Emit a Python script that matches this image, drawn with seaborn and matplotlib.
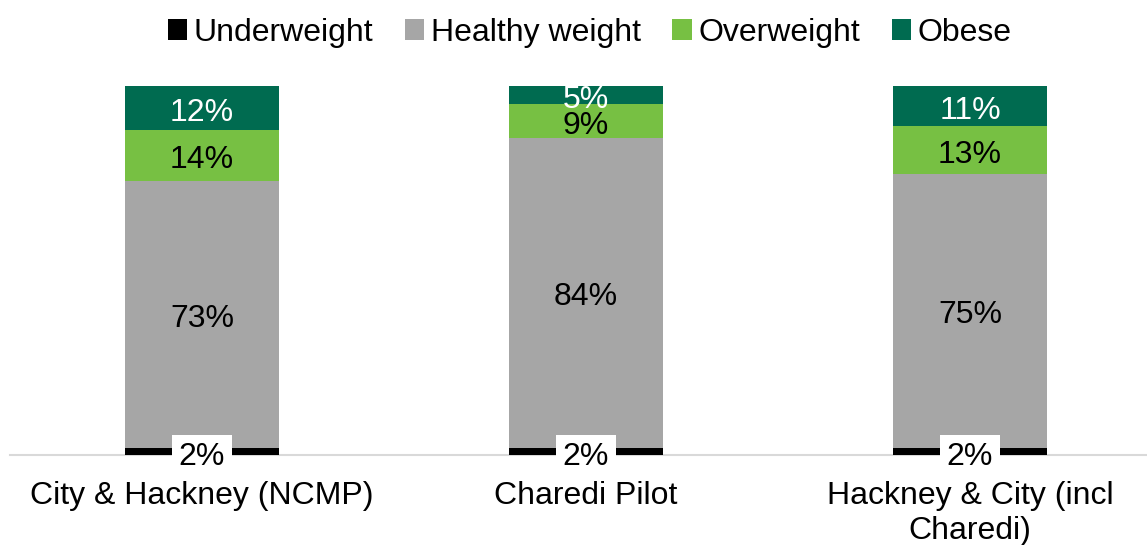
import numpy as np
import pandas as pd
import matplotlib
matplotlib.use("Agg")
import matplotlib.pyplot as plt
import seaborn as sns
from matplotlib.patches import Patch

sns.set_theme(style="white")
plt.rcParams['font.family'] = ['Liberation Sans', 'DejaVu Sans']
plt.rcParams['text.color'] = 'black'
plt.rcParams['xtick.color'] = 'black'

# data
groups = ["City & Hackney (NCMP)", "Charedi Pilot", "Hackney & City (incl\nCharedi)"]
underweight = [2, 2, 2]
healthy = [73, 84, 75]
overweight = [14, 9, 13]
obese = [12, 5, 11]

layers = ["Underweight", "Healthy weight", "Overweight", "Obese"]
colors = ["#000000", "#A6A6A6", "#77C043", "#006B50"]
text_colors = ["black", "black", "black", "white"]

df = pd.DataFrame({
    "group": groups,
    "Underweight": underweight,
    "Healthy weight": healthy,
    "Overweight": overweight,
    "Obese": obese,
})
totals = df[layers].sum(axis=1)
shares = df[layers].div(totals, axis=0)
cum = shares.cumsum(axis=1)

fig = plt.figure(figsize=(11.47, 5.45), dpi=100)
ax = fig.add_axes([10 / 1147, 90 / 545, 1152 / 1147, 369 / 545])

# draw cumulative heights from top layer down so each sits on the one below
for layer, col in zip(layers[::-1], colors[::-1]):
    sns.barplot(x=df["group"], y=cum[layer], color=col, width=0.4,
                saturation=1, ax=ax, linewidth=0, order=groups)

fs = 23
for i in range(len(groups)):
    for j, layer in enumerate(layers):
        val = df[layer].iloc[i]
        top = cum[layer].iloc[i]
        bot = top - shares[layer].iloc[i]
        if layer == "Underweight":
            ax.text(i, -0.005, f"{val}%", ha="center", va="center", fontsize=fs,
                    color="black",
                    bbox=dict(boxstyle="square,pad=0.2", fc="white", ec="none"))
        else:
            ax.text(i, (top + bot) / 2 - 0.013, f"{val}%", ha="center",
                    va="center", fontsize=fs, color=text_colors[j])

ax.set_xlim(-0.5, 2.5)
ax.set_ylim(0, 1)
ax.set_xlabel("")
ax.set_ylabel("")
ax.set_yticks([])
ax.tick_params(axis="x", length=0, pad=19, labelsize=fs, labelcolor="black")
for lab in ax.get_xticklabels():
    lab.set_multialignment("center")
for s in ["top", "right", "left"]:
    ax.spines[s].set_visible(False)
ax.spines["bottom"].set_color("#D9D9D9")
ax.spines["bottom"].set_linewidth(1.5)
ax.spines["bottom"].set_zorder(0)

handles = [Patch(facecolor=c, edgecolor="none") for c in colors]
fig.legend(handles, layers, loc="center", bbox_to_anchor=(0.514, 0.94),
           ncol=4, frameon=False, fontsize=fs, handlelength=0.6,
           handleheight=0.6, handletextpad=0.2, columnspacing=1.0)

fig.savefig("out.png", dpi=100)
